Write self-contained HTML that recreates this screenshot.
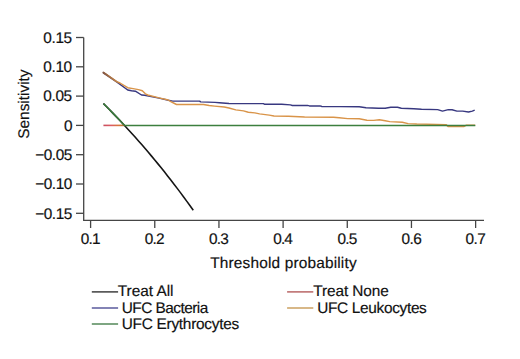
<!DOCTYPE html>
<html><head><meta charset="utf-8"><style>
html,body{margin:0;padding:0;background:#fff;width:520px;height:359px;overflow:hidden}
svg{display:block}
text{text-rendering:geometricPrecision;font-family:"Liberation Sans",sans-serif;font-size:15.4px;fill:#111;stroke:#111;stroke-width:0.18px}
</style></head><body>
<svg width="520" height="359" viewBox="0 0 520 359">
<path d="M83.70 37.50V220.40H484" fill="none" stroke="#454545" stroke-width="1.3"/>
<path d="M76 37.50H83.70" stroke="#454545" stroke-width="1.3"/>
<path d="M76 66.80H83.70" stroke="#454545" stroke-width="1.3"/>
<path d="M76 96.10H83.70" stroke="#454545" stroke-width="1.3"/>
<path d="M76 125.40H83.70" stroke="#454545" stroke-width="1.3"/>
<path d="M76 154.70H83.70" stroke="#454545" stroke-width="1.3"/>
<path d="M76 184.00H83.70" stroke="#454545" stroke-width="1.3"/>
<path d="M76 213.30H83.70" stroke="#454545" stroke-width="1.3"/>
<path d="M90.60 220.40V228" stroke="#454545" stroke-width="1.3"/>
<path d="M154.77 220.40V228" stroke="#454545" stroke-width="1.3"/>
<path d="M218.94 220.40V228" stroke="#454545" stroke-width="1.3"/>
<path d="M283.11 220.40V228" stroke="#454545" stroke-width="1.3"/>
<path d="M347.28 220.40V228" stroke="#454545" stroke-width="1.3"/>
<path d="M411.45 220.40V228" stroke="#454545" stroke-width="1.3"/>
<path d="M475.62 220.40V228" stroke="#454545" stroke-width="1.3"/>
<text x="43.25" y="42.70" textLength="28.90" lengthAdjust="spacing">0.15</text>
<text x="43.25" y="72.00" textLength="28.90" lengthAdjust="spacing">0.10</text>
<text x="43.25" y="101.30" textLength="28.90" lengthAdjust="spacing">0.05</text>
<text x="64.00" y="130.60" textLength="6.96" lengthAdjust="spacing">0</text>
<text x="35.25" y="159.90" textLength="37.02" lengthAdjust="spacing">−0.05</text>
<text x="35.25" y="189.20" textLength="37.02" lengthAdjust="spacing">−0.10</text>
<text x="35.25" y="218.50" textLength="37.02" lengthAdjust="spacing">−0.15</text>
<text x="80.75" y="244.30" textLength="19.83" lengthAdjust="spacing">0.1</text>
<text x="144.85" y="244.30" textLength="19.83" lengthAdjust="spacing">0.2</text>
<text x="208.95" y="244.30" textLength="19.83" lengthAdjust="spacing">0.3</text>
<text x="273.30" y="244.30" textLength="19.46" lengthAdjust="spacing">0.4</text>
<text x="337.40" y="244.30" textLength="19.83" lengthAdjust="spacing">0.5</text>
<text x="401.50" y="244.30" textLength="20.21" lengthAdjust="spacing">0.6</text>
<text x="465.60" y="244.30" textLength="20.21" lengthAdjust="spacing">0.7</text>
<text x="210.25" y="267.90" textLength="146.34" lengthAdjust="spacing">Threshold probability</text>
<text transform="translate(29.40 138.75) rotate(-90)" textLength="69.34" lengthAdjust="spacing">Sensitivity</text>
<text x="117.75" y="296.20" textLength="55.72" lengthAdjust="spacing">Treat All</text>
<text x="121.75" y="312.90" textLength="86.48" lengthAdjust="spacing">UFC Bacteria</text>
<text x="121.75" y="329.30" textLength="117.38" lengthAdjust="spacing">UFC Erythrocytes</text>
<text x="313.25" y="296.20" textLength="75.53" lengthAdjust="spacing">Treat None</text>
<text x="317.25" y="312.90" textLength="109.57" lengthAdjust="spacing">UFC Leukocytes</text>
<path d="M103.43 103.56 L106.64 106.78 L109.85 110.04 L113.06 113.34 L116.27 116.68 L119.48 120.05 L122.69 123.47 L125.89 126.93 L129.10 130.42 L132.31 133.96 L135.52 137.54 L138.73 141.17 L141.94 144.84 L145.14 148.55 L148.35 152.31 L151.56 156.12 L154.77 159.97 L157.98 163.88 L161.19 167.83 L164.40 171.83 L167.60 175.89 L170.81 179.99 L174.02 184.15 L177.23 188.37 L180.44 192.64 L183.65 196.96 L186.86 201.35 L190.06 205.79 L193.27 210.29" fill="none" stroke="#151515" stroke-width="1.6"/>
<defs><linearGradient id="rg" gradientUnits="userSpaceOnUse" x1="103.43" y1="0" x2="124.48" y2="0"><stop offset="0" stop-color="#c8505e"/><stop offset="0.35" stop-color="#dc5a64"/><stop offset="0.7" stop-color="#d8763e"/><stop offset="1" stop-color="#b8702e"/></linearGradient></defs>
<path d="M103.43 125.40H124.48" fill="none" stroke="url(#rg)" stroke-width="1.6"/>
<path d="M103.30 72.60 L116.70 81.80 L127.70 90.00 L131.50 90.80 L135.40 91.20 L141.50 95.00 L144.60 95.20 L159.10 98.10 L168.30 100.20 L172.70 101.10 L199.60 101.10 L200.60 101.90 L215.00 102.40 L219.40 102.70 L229.00 103.50 L250.00 103.60 L263.50 103.60 L264.40 104.30 L281.70 104.30 L290.40 104.90 L292.30 105.50 L307.50 105.40 L309.40 105.90 L320.00 105.90 L321.90 106.50 L340.00 106.60 L359.20 106.70 L366.00 107.70 L378.50 108.20 L385.20 108.20 L390.80 107.20 L397.50 107.20 L401.30 108.20 L413.80 108.70 L421.50 109.30 L437.70 109.60 L442.50 111.10 L448.30 109.60 L452.10 109.80 L456.90 111.10 L462.70 111.10 L468.50 112.00 L472.30 111.10 L474.70 110.10" fill="none" stroke="#383880" stroke-width="1.45" stroke-linejoin="round"/>
<path d="M103.30 72.40 L116.70 81.60 L120.00 83.00 L127.70 87.70 L133.10 88.60 L138.50 89.60 L142.30 90.80 L145.40 93.80 L147.70 95.00 L159.10 97.90 L168.30 100.00 L170.80 101.60 L176.50 104.50 L203.50 104.50 L209.20 105.50 L214.60 106.10 L224.20 107.00 L229.00 108.00 L235.80 109.90 L243.50 110.90 L248.30 112.30 L254.80 112.90 L259.60 113.90 L269.20 115.10 L274.00 116.00 L288.50 116.30 L304.60 117.00 L333.50 117.20 L339.20 117.70 L347.70 118.60 L359.20 118.75 L366.90 120.20 L373.70 120.40 L379.40 119.70 L385.20 120.70 L389.80 121.60 L402.30 122.30 L408.10 123.60 L416.70 124.00 L446.00 124.60 L448.30 126.60 L463.70 126.60 L466.00 125.30 L475.20 125.30" fill="none" stroke="#d99449" stroke-width="1.45" stroke-linejoin="round"/>
<defs><linearGradient id="bg" gradientUnits="userSpaceOnUse" x1="103" y1="0" x2="121" y2="0"><stop offset="0" stop-color="#7a5040" stop-opacity="0.9"/><stop offset="0.6" stop-color="#a06a40" stop-opacity="0.55"/><stop offset="1" stop-color="#a06a30" stop-opacity="0"/></linearGradient></defs>
<path d="M103.3 72.6L116.7 81.7L121 84.2" fill="none" stroke="url(#bg)" stroke-width="1.9" stroke-linecap="round"/>
<path d="M124.48 125.40H475.3" fill="none" stroke="#3c7f3e" stroke-width="1.45"/>
<path d="M103.43 103.56 L106.64 106.78 L109.85 110.04 L113.06 113.34 L116.27 116.68 L119.48 120.05 L122.69 123.47 L124.48 125.40" fill="none" stroke="#3a7a3c" stroke-width="1.65"/>
<path d="M91.8 291.9H118.1" stroke="#333" stroke-width="1.4"/>
<path d="M91.8 308.0H118.1" stroke="#4e4e96" stroke-width="1.4"/>
<path d="M91.8 324.0H118.1" stroke="#47804d" stroke-width="1.4"/>
<path d="M287.1 291.9H313.3" stroke="#b45c5c" stroke-width="1.4"/>
<path d="M287.1 308.0H313.3" stroke="#c79a55" stroke-width="1.4"/>
</svg>
</body></html>
